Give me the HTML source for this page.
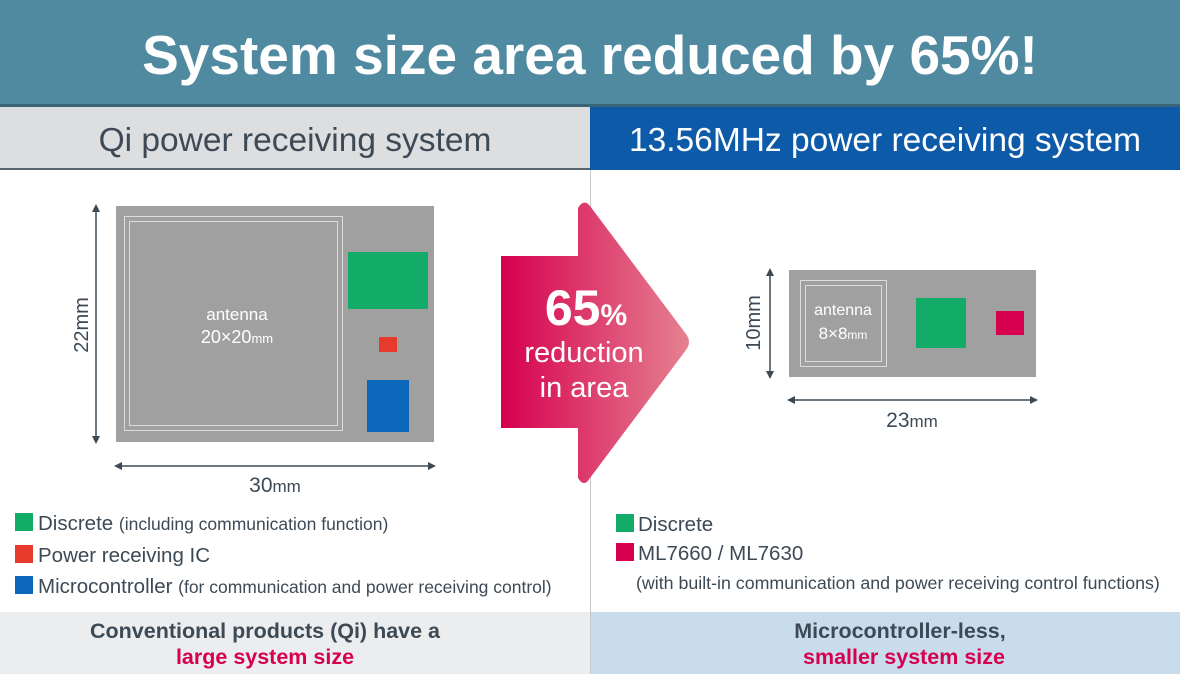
<!DOCTYPE html>
<html><head><meta charset="utf-8">
<style>
html,body{margin:0;padding:0;width:1180px;height:674px;overflow:hidden;background:#fff;font-family:"Liberation Sans",sans-serif;}
svg{display:block}
</style></head><body>
<svg width="1180" height="674" viewBox="0 0 1180 674" xmlns="http://www.w3.org/2000/svg">
<defs>
<linearGradient id="ag" x1="0" x2="1" y1="0" y2="0">
<stop offset="0" stop-color="#d6004f"/><stop offset="1" stop-color="#e58290"/>
</linearGradient>
<marker id="ah" markerWidth="8" markerHeight="8" refX="4" refY="4" orient="auto-start-reverse" markerUnits="userSpaceOnUse"><path d="M0,0 L8,4 L0,8 z" fill="#3d4a55"/></marker>
</defs>
<rect x="0" y="0" width="1180" height="104" fill="#4f8aa0"/>
<rect x="0" y="104" width="1180" height="3" fill="#3a6577"/>
<text x="590" y="74" text-anchor="middle" font-size="55" font-weight="bold" fill="#fff">System size area reduced by 65%!</text>
<rect x="0" y="107" width="590" height="61" fill="#dcdee0"/>
<rect x="590" y="107" width="590" height="61" fill="#0d5aa8"/>
<rect x="0" y="168" width="590" height="2" fill="#5a6670"/>
<rect x="590" y="168" width="590" height="2" fill="#0d5aa8"/>
<text x="295" y="151" text-anchor="middle" font-size="33.5" fill="#3d4a55">Qi power receiving system</text>
<text x="885" y="151" text-anchor="middle" font-size="33.5" fill="#fff">13.56MHz power receiving system</text>
<line x1="590.5" y1="170" x2="590.5" y2="674" stroke="#c8c8c8" stroke-width="1"/>
<g>
<rect x="116" y="206" width="318" height="236" fill="#a0a0a0"/>
<rect x="124.5" y="216.5" width="218" height="214" fill="none" stroke="#dcdcdc" stroke-width="1"/>
<rect x="129.5" y="221.5" width="208" height="204" fill="none" stroke="#dcdcdc" stroke-width="1"/>
<text x="237" y="320" text-anchor="middle" font-size="17" fill="#fff">antenna</text>
<text x="237" y="343" text-anchor="middle" font-size="18" fill="#fff">20×20<tspan font-size="13">mm</tspan></text>
<rect x="348" y="252" width="80" height="57" fill="#12ab67"/>
<rect x="379" y="337" width="18" height="15" fill="#e63a2c"/>
<rect x="367" y="380" width="42" height="52" fill="#0a67b9"/>
</g>
<line x1="96" y1="208" x2="96" y2="440" stroke="#3d4a55" stroke-width="1.5" marker-start="url(#ah)" marker-end="url(#ah)"/>
<text transform="translate(88,325) rotate(-90)" text-anchor="middle" font-size="20" fill="#3d4a55">22mm</text>
<line x1="118" y1="466" x2="432" y2="466" stroke="#3d4a55" stroke-width="1.5" marker-start="url(#ah)" marker-end="url(#ah)"/>
<text x="275" y="492" text-anchor="middle" font-size="21" fill="#3d4a55">30<tspan font-size="17">mm</tspan></text>
<path d="M501,256 L578,256 L578,208 Q584,198 590,206 L686,334 Q692,342 686,350 L590,478 Q584,488 578,478 L578,428 L501,428 z" fill="url(#ag)"/>
<text x="586" y="325" text-anchor="middle" font-size="50" font-weight="bold" fill="#fff">65<tspan font-size="30">%</tspan></text>
<text x="584" y="362" text-anchor="middle" font-size="29" fill="#fff">reduction</text>
<text x="584" y="397" text-anchor="middle" font-size="29" fill="#fff">in area</text>
<g>
<rect x="789" y="270" width="247" height="107" fill="#a0a0a0"/>
<rect x="800.5" y="280.5" width="86" height="86" fill="none" stroke="#dcdcdc"/>
<rect x="805.5" y="285.5" width="76" height="76" fill="none" stroke="#dcdcdc"/>
<text x="843" y="315" text-anchor="middle" font-size="16" fill="#fff">antenna</text>
<text x="843" y="339" text-anchor="middle" font-size="17" fill="#fff">8×8<tspan font-size="12">mm</tspan></text>
<rect x="916" y="298" width="50" height="50" fill="#12ab67"/>
<rect x="996" y="311" width="28" height="24" fill="#d6004f"/>
</g>
<line x1="770" y1="272" x2="770" y2="375" stroke="#3d4a55" stroke-width="1.5" marker-start="url(#ah)" marker-end="url(#ah)"/>
<text transform="translate(760,323) rotate(-90)" text-anchor="middle" font-size="20" fill="#3d4a55">10mm</text>
<line x1="791" y1="400" x2="1034" y2="400" stroke="#3d4a55" stroke-width="1.5" marker-start="url(#ah)" marker-end="url(#ah)"/>
<text x="912" y="427" text-anchor="middle" font-size="21" fill="#3d4a55">23<tspan font-size="17">mm</tspan></text>
<g fill="#3d4a55">
<rect x="15" y="513" width="18" height="18" fill="#12ab67"/>
<text x="38" y="530" font-size="20.5">Discrete <tspan font-size="17.5">(including communication function)</tspan></text>
<rect x="15" y="545" width="18" height="18" fill="#e63a2c"/>
<text x="38" y="562" font-size="20.5">Power receiving IC</text>
<rect x="15" y="576" width="18" height="18" fill="#0a67b9"/>
<text x="38" y="593" font-size="20.5">Microcontroller <tspan font-size="17.5">(for communication and power receiving control)</tspan></text>
</g>
<g fill="#3d4a55">
<rect x="616" y="514" width="18" height="18" fill="#12ab67"/>
<text x="638" y="531" font-size="20.5">Discrete</text>
<rect x="616" y="543" width="18" height="18" fill="#d6004f"/>
<text x="638" y="560" font-size="20.5">ML7660 / ML7630</text>
<text x="636" y="589" font-size="17.8">(with built-in communication and power receiving control functions)</text>
</g>
<rect x="0" y="612" width="590" height="62" fill="#ecedef"/>
<rect x="591" y="612" width="589" height="62" fill="#c9dcec"/>
<text x="265" y="638" text-anchor="middle" font-size="21.5" font-weight="bold" fill="#3d4a55">Conventional products (Qi) have a</text>
<text x="265" y="664" text-anchor="middle" font-size="21.5" font-weight="bold" fill="#d6004f">large system size</text>
<text x="900" y="638" text-anchor="middle" font-size="21.5" font-weight="bold" fill="#3d4a55">Microcontroller-less,</text>
<text x="904" y="664" text-anchor="middle" font-size="21.5" font-weight="bold" fill="#d6004f">smaller system size</text>
</svg>
</body></html>
